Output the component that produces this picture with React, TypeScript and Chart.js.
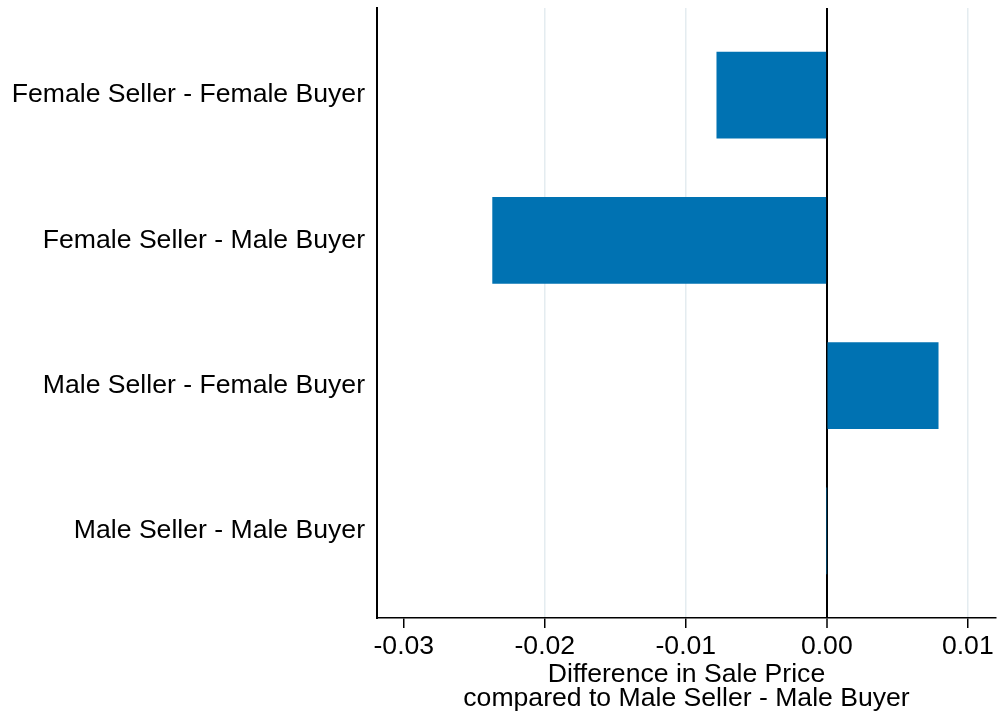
import React, { useEffect, useRef } from "react";
import { Chart, registerables } from "chart.js";

Chart.register(...registerables);

const categories: string[] = [
  "Female Seller - Female Buyer",
  "Female Seller - Male Buyer",
  "Male Seller - Female Buyer",
  "Male Seller - Male Buyer",
];
const differences: number[] = [-0.0078, -0.0237, 0.0079, 0];
const xTickValues: number[] = [-0.03, -0.02, -0.01, 0, 0.01];
const xTitle: string[] = ["Difference in Sale Price", "compared to Male Seller - Male Buyer"];

const FONT = "'Liberation Sans', Arial, Helvetica, sans-serif";
const FS = 26.6;

export default function App() {
  const ref = useRef<HTMLCanvasElement | null>(null);

  useEffect(() => {
    document.body.style.margin = "0";
    const canvas = ref.current;
    if (!canvas) return;
    const chart = new Chart(canvas, {
      type: "bar",
      data: {
        datasets: [
          {
            data: differences.map((v, i) => ({ x: v, y: i })),
            backgroundColor: "#0072b2",
            borderWidth: 0,
            barThickness: 86,
          },
        ],
      },
      options: {
        indexAxis: "y",
        responsive: false,
        animation: false,
        devicePixelRatio: 1,
        layout: { padding: { top: 8, right: 1, left: 0, bottom: 0 } },
        plugins: { legend: { display: false }, tooltip: { enabled: false } },
        scales: {
          x: {
            type: "linear",
            min: -0.0319,
            max: 0.012,
            offset: false,
            afterBuildTicks: (scale: any) => {
              scale.ticks = xTickValues.map((v) => ({ value: v }));
            },
            afterFit: (scale: any) => {
              scale.height = 101;
              scale.paddingLeft = 0;
              scale.paddingRight = 0;
            },
            ticks: {
              color: "#000",
              font: { family: FONT, size: FS },
              padding: 3,
              maxRotation: 0,
              autoSkip: false,
              callback: (v: any) => Number(v).toFixed(2),
            },
            grid: {
              color: (ctx: any) => {
                const v = ctx.tick ? ctx.tick.value : null;
                if (v === null) return "transparent";
                if (Math.abs(v) < 1e-9) return "#000";
                if (Math.abs(v + 0.03) < 1e-9) return "rgba(0,0,0,0)";
                return "#e4ecf0";
              },
              lineWidth: (ctx: any) => {
                const v = ctx.tick ? ctx.tick.value : null;
                if (v !== null && Math.abs(v) < 1e-9) return 2;
                return 1.5;
              },
              tickColor: "#000",
              tickWidth: 1.5,
              tickLength: 10,
              drawTicks: true,
            },
            border: { display: true, color: "#000", width: 1.5 },
            title: {
              display: true,
              text: xTitle,
              color: "#000",
              font: { family: FONT, size: FS, lineHeight: 0.9 },
              padding: { top: 0, bottom: 8 },
            },
          },
          y: {
            type: "linear",
            reverse: true,
            min: -0.6,
            max: 3.6,
            offset: false,
            afterBuildTicks: (scale: any) => {
              scale.ticks = categories.map((_, i) => ({ value: i }));
            },
            afterFit: (scale: any) => {
              scale.width = 377;
              scale.paddingTop = 0;
              scale.paddingBottom = 0;
            },
            ticks: {
              color: "#000",
              font: { family: FONT, size: FS },
              padding: 12,
              autoSkip: false,
              callback: (v: any) => categories[Math.round(Number(v))] ?? "",
            },
            grid: { display: false, drawTicks: false },
            border: { display: true, color: "#000", width: 2 },
          },
        },
      },
    });
    return () => chart.destroy();
  }, []);

  return (
    <div style={{ width: 997, height: 719, background: "#fff" }}>
      <canvas ref={ref} width={997} height={719} style={{ display: "block" }} />
    </div>
  );
}
